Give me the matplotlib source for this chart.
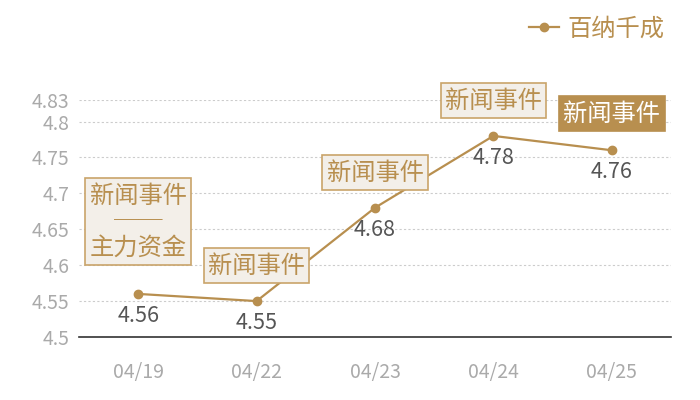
import matplotlib
matplotlib.use("Agg")
import matplotlib.pyplot as plt

plt.rcParams['font.family'] = ['Noto Sans CJK SC', 'DejaVu Sans']

dates = ["04/19", "04/22", "04/23", "04/24", "04/25"]
values = [4.56, 4.55, 4.68, 4.78, 4.76]
event_texts = ["新闻事件\n──\n主力资金", "新闻事件", "新闻事件", "新闻事件", "新闻事件"]
yticks = [4.5, 4.55, 4.6, 4.65, 4.7, 4.75, 4.8, 4.83]
series_name = "百纳千成"

gold = "#b88f4f"
box_fill = "#f3efe9"
box_edge = "#c9a46a"

fig = plt.figure(figsize=(7, 4), dpi=100)
ax = fig.add_axes([79/700, 63/400, 592/700, 237/400])

x = list(range(len(dates)))
ax.plot(x, values, color=gold, lw=1.6, marker='o', ms=6, zorder=3, label=series_name)

ax.set_xlim(-0.5, len(dates) - 0.5)
ax.set_ylim(4.5, 4.83)
ax.set_yticks(yticks)
ax.set_yticklabels([f"{v:g}" for v in yticks])
ax.set_xticks(x)
ax.set_xticklabels(dates)
ax.tick_params(axis='both', length=0, colors="#aaaaaa", labelsize=14)
ax.tick_params(axis='x', pad=18)
ax.tick_params(axis='y', pad=7)
for t in ax.get_xticklabels() + ax.get_yticklabels():
    t.set_color("#aaaaaa")

for s in ['top', 'right', 'left']:
    ax.spines[s].set_visible(False)
ax.spines['bottom'].set_color("#333333")
ax.spines['bottom'].set_linewidth(1.2)
ax.grid(axis='y', linestyle=(0, (2, 2)), color="#cccccc", lw=0.8)
ax.set_axisbelow(True)

# value labels
for xi, v in zip(x, values):
    ax.annotate(f"{v:g}", (xi, v), xytext=(0, -16), textcoords='offset points',
                ha='center', va='center', fontsize=15.5, color="#555555", zorder=5)

# event boxes
offsets = [24, 16, 16, 16, 17]
for i, (xi, v, txt) in enumerate(zip(x, values, event_texts)):
    filled = (i == len(dates) - 1)
    ax.annotate(txt, (xi, v), xytext=(0, offsets[i]), textcoords='offset points',
                ha='center', va='bottom', fontsize=17.5, linespacing=1.0,
                color='white' if filled else gold,
                bbox=dict(boxstyle='square,pad=0.18',
                          fc=gold if filled else box_fill,
                          ec=gold if filled else box_edge, lw=1.2),
                zorder=6)

leg = fig.legend(loc='upper right', bbox_to_anchor=(0.98, 1.015), frameon=False,
                 fontsize=17.5, handlelength=1.2, handletextpad=0.35)
for t in leg.get_texts():
    t.set_color(gold)

fig.savefig("out.png", dpi=100)
